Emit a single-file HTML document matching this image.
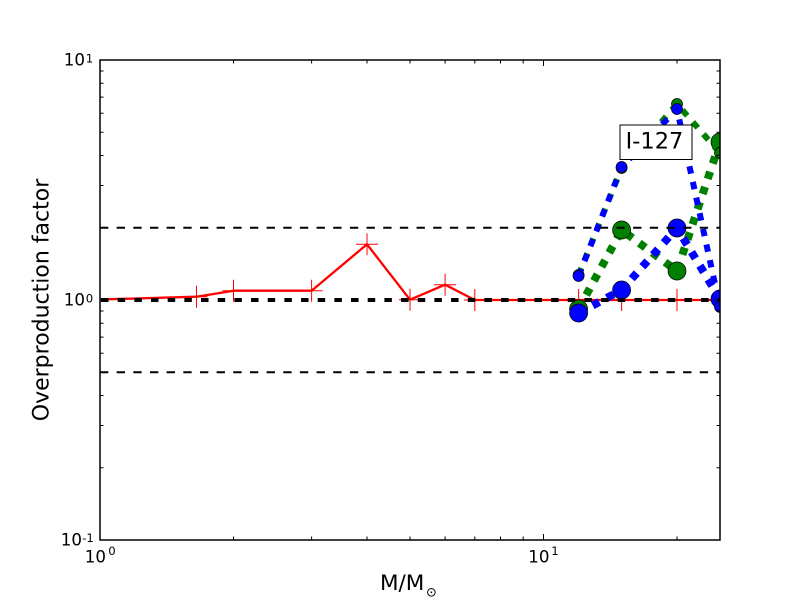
<!DOCTYPE html>
<html>
<head>
<meta charset="utf-8">
<style>
  html, body { margin: 0; padding: 0; background: #ffffff; }
  svg { display: block; }
  text { font-family: "DejaVu Sans", "Liberation Sans", sans-serif; fill: #000; }
</style>
</head>
<body>
<svg width="800" height="600" viewBox="0 0 800 600" xmlns="http://www.w3.org/2000/svg">
  <defs>
    <clipPath id="plot">
      <rect x="100" y="60" width="620" height="480"/>
    </clipPath>
  </defs>
  <rect x="0" y="0" width="800" height="600" fill="#ffffff"/>

  <g clip-path="url(#plot)">
    <!-- red line -->
    <polyline fill="none" stroke="#ff0000" stroke-width="2.3" stroke-linejoin="round"
      points="100,299.5 196.5,296.7 233.5,290.7 311.6,290.7 367,244.3 410,299.7 445.1,284.7 474.8,300 578.6,300 621.6,300 677,300 720,300"/>
    <g stroke="#ff0000" stroke-width="1">
      <path d="M185.5,296.7h22M196.5,285.7v22"/>
      <path d="M222.5,290.7h22M233.5,279.7v22"/>
      <path d="M300.6,290.7h22M311.6,279.7v22"/>
      <path d="M356,244.3h22M367,233.3v22"/>
      <path d="M399,299.7h22M410,288.7v22"/>
      <path d="M434.1,284.7h22M445.1,273.7v22"/>
      <path d="M463.8,300h22M474.8,289v22"/>
      <path d="M567.6,300h22M578.6,289v22"/>
      <path d="M610.6,300h22M621.6,289v22"/>
      <path d="M666,300h22M677,289v22"/>
      <path d="M709,300h22M720,289v22"/>
    </g>

    <!-- green large -->
    <polyline fill="none" stroke="#008000" stroke-width="8" stroke-dasharray="7.5 8.5"
      points="578.6,309 621.6,230 677,271 720,142"/>
    <g fill="#008000" stroke="#000" stroke-width="0.7">
      <circle cx="578.6" cy="309" r="9"/>
      <circle cx="621.6" cy="230" r="9"/>
      <circle cx="677" cy="271" r="9"/>
      <circle cx="720" cy="142" r="9"/>
    </g>
    <!-- green small -->
    <polyline fill="none" stroke="#008000" stroke-width="6" stroke-dasharray="7.5 8.5"
      points="578.6,275 621.6,168 677,104 720,153"/>
    <g fill="#008000" stroke="#000" stroke-width="0.7">
      <circle cx="578.6" cy="275" r="5.5"/>
      <circle cx="621.6" cy="168" r="5.5"/>
      <circle cx="677" cy="104" r="5.5"/>
      <circle cx="720" cy="153" r="5.5"/>
    </g>
    <!-- blue large -->
    <polyline fill="none" stroke="#0000ff" stroke-width="8" stroke-dasharray="7.5 8.5"
      points="578.6,313 621.6,290 677,228 720,299"/>
    <g fill="#0000ff" stroke="#000" stroke-width="0.7">
      <circle cx="578.6" cy="313" r="9"/>
      <circle cx="621.6" cy="290" r="9"/>
      <circle cx="677" cy="228" r="9"/>
      <circle cx="720" cy="299" r="9"/>
    </g>
    <!-- blue small -->
    <polyline fill="none" stroke="#0000ff" stroke-width="6" stroke-dasharray="7.5 8.5"
      points="578.6,276 621.6,167 677,109 720,307"/>
    <g fill="#0000ff" stroke="#000" stroke-width="0.7">
      <circle cx="578.6" cy="276" r="5.5"/>
      <circle cx="621.6" cy="167" r="5.5"/>
      <circle cx="677" cy="109" r="5.5"/>
      <circle cx="720" cy="307" r="5.5"/>
    </g>

    <!-- black dashed reference lines -->
    <line x1="100" y1="227.8" x2="720" y2="227.8" stroke="#000" stroke-width="2" stroke-dasharray="8.33 8.33"/>
    <line x1="100" y1="372.2" x2="720" y2="372.2" stroke="#000" stroke-width="2" stroke-dasharray="8.33 8.33"/>
    <line x1="101" y1="300" x2="720" y2="300" stroke="#000" stroke-width="4" stroke-dasharray="7.5 9.17"/>
  </g>

  <!-- ticks -->
  <g stroke="#000" stroke-width="1">
    <path d="M100,60h6M100,300h6M100,540h6M720,60h-6M720,300h-6M720,540h-6"/>
    <path d="M100,467.75h3.5M100,425.5h3.5M100,395.5h3.5M100,372.25h3.5M100,353.24h3.5M100,337.18h3.5M100,323.26h3.5M100,310.98h3.5
             M100,227.75h3.5M100,185.5h3.5M100,155.5h3.5M100,132.25h3.5M100,113.24h3.5M100,97.18h3.5M100,83.26h3.5M100,70.98h3.5"/>
    <path d="M720,467.75h-3.5M720,425.5h-3.5M720,395.5h-3.5M720,372.25h-3.5M720,353.24h-3.5M720,337.18h-3.5M720,323.26h-3.5M720,310.98h-3.5
             M720,227.75h-3.5M720,185.5h-3.5M720,155.5h-3.5M720,132.25h-3.5M720,113.24h-3.5M720,97.18h-3.5M720,83.26h-3.5M720,70.98h-3.5"/>
    <path d="M100,540v-6M543.5,540v-6M100,60v6M543.5,60v6"/>
    <path d="M233.5,540v-3.5M311.6,540v-3.5M367,540v-3.5M410,540v-3.5M445.1,540v-3.5M474.8,540v-3.5M500.5,540v-3.5M523.2,540v-3.5M677,540v-3.5"/>
    <path d="M233.5,60v3.5M311.6,60v3.5M367,60v3.5M410,60v3.5M445.1,60v3.5M474.8,60v3.5M500.5,60v3.5M523.2,60v3.5M677,60v3.5"/>
  </g>

  <!-- spines -->
  <rect x="100" y="60" width="620" height="480" fill="none" stroke="#000" stroke-width="1.5"/>

  <!-- annotation box -->
  <rect x="620" y="125" width="72" height="34.5" fill="#ffffff" stroke="#000" stroke-width="1"/>
  <text x="654.5" y="148.5" font-size="22.5" text-anchor="middle">I-127</text>

  <!-- y tick labels -->
  <text x="63.8" y="65.5" font-size="16.67">10</text>
  <text x="85.8" y="62.5" font-size="11.7">1</text>
  <text x="63.8" y="305.5" font-size="16.67">10</text>
  <text x="85.8" y="302.5" font-size="11.7">0</text>
  <text x="60.8" y="545.6" font-size="16.67">10</text>
  <text x="82.2" y="541.8" font-size="11.7">-1</text>

  <!-- x tick labels -->
  <text x="84.8" y="562.3" font-size="16.67">10</text>
  <text x="108.2" y="555.2" font-size="11.7">0</text>
  <text x="528.3" y="562.3" font-size="16.67">10</text>
  <text x="551.2" y="555.2" font-size="11.7">1</text>

  <!-- axis labels -->
  <text transform="translate(48.5,300) rotate(-90)" font-size="22" text-anchor="middle">Overproduction factor</text>
  <text x="380" y="590" font-size="21.5">M/M<tspan x="426" y="596.5" font-size="13">⊙</tspan></text>
</svg>
</body>
</html>
